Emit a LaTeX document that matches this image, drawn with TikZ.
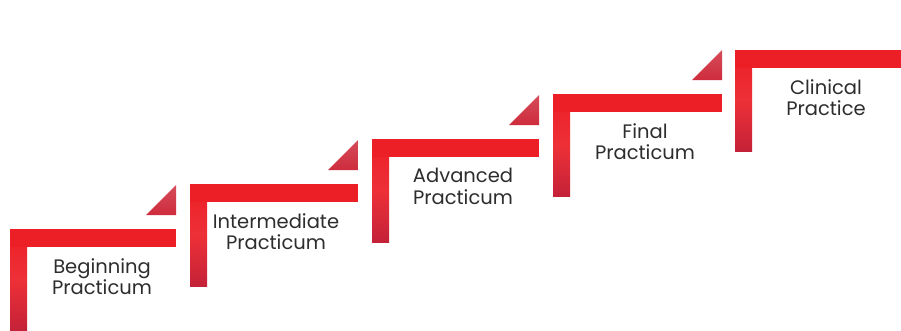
\documentclass[tikz,border=0pt]{standalone}
\usepackage{fontspec}
\setmainfont{Poppins}
\begin{document}
\begin{tikzpicture}[x=1bp,y=-1bp]
\definecolor{barred}{RGB}{236,30,38}
\definecolor{darkred}{RGB}{196,34,56}
\definecolor{trired}{RGB}{206,44,60}
\definecolor{txt}{RGB}{45,45,45}
\tikzset{
  hbar/.style={fill=barred,draw=none},
  vbar/.style={draw=none,top color=barred,bottom color=darkred,middle color=barred!92!white},
  tri/.style={draw=none,top color=trired!85!white,bottom color=trired},
  label/.style={align=center,text=txt,font=\fontsize{19.5bp}{21.5bp}\selectfont,inner sep=0pt,anchor=north}
}
\useasboundingbox (0,0) rectangle (901,330);
\fill[white] (0,0) rectangle (901,330);
% step geometry: left x, bar top y, bar right x, vertical bottom y
\foreach \i/\lx/\ty/\rx/\by in {1/10/229/176/330, 2/190/184/358/286, 3/372/139/539/242, 4/553/94/722/196, 5/735/50/901/151}{
  \shade[vbar] (\lx,\ty) rectangle (\lx+17,\by);
  \fill[hbar] (\lx,\ty) rectangle (\rx,\ty+18);
}
\foreach \i/\rx/\ty in {1/176/229, 2/358/184, 3/539/139, 4/722/94}{
  \shade[tri] (\rx-30,\ty-14) -- (\rx,\ty-14) -- (\rx,\ty-44) -- cycle;
}
\node[label] (s1) at (102,258) {Beginning\\Practicum};
\node[label] (s2) at (276,213) {Intermediate\\Practicum};
\node[label] (s3) at (463,168) {Advanced\\Practicum};
\node[label] (s4) at (645,123) {Final\\Practicum};
\node[label] (s5) at (826,79) {Clinical\\Practice};
\end{tikzpicture}
\end{document}
